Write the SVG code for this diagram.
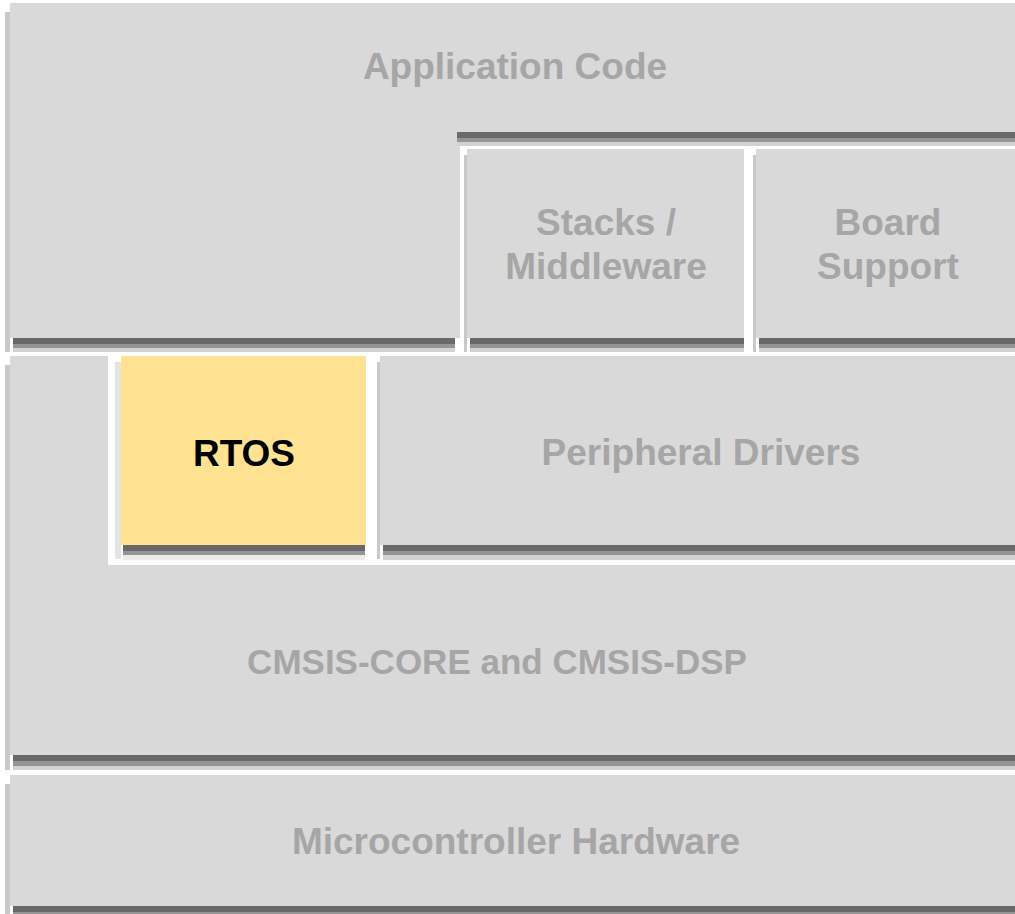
<svg xmlns="http://www.w3.org/2000/svg" width="1015" height="914" viewBox="0 0 1015 914">
  <style>
    .box { fill: #d9d9d9; }
    .rtos { fill: #ffe393; }
    .edge { fill: #c9c9c9; }
    .edge2 { fill: #e4e4e4; }
    .sd { fill: #696969; }
    .sm { fill: #959595; }
    .sl { fill: #d2d2d2; }
    .sl2 { fill: #ececec; }
    .lbl { font-family: "Liberation Sans", Arial, sans-serif; font-weight: bold; font-size: 37px; fill: #a6a6a6; text-anchor: middle; }
    .lblk { fill: #000000; }
  </style>
  <rect x="0" y="0" width="1015" height="914" fill="#ffffff"/>

  <g id="application-code">
    <rect class="edge" x="5" y="12" width="5" height="340"/>
    <polygon class="box" points="10,3 1015,3 1015,132 460,132 460,338 10,338"/>
    <rect class="sd" x="457" y="132" width="558" height="6"/>
    <rect class="sm" x="457" y="138" width="558" height="4"/>
    <rect class="sl" x="457" y="142" width="558" height="4"/>
    <rect class="sd" x="13" y="338" width="442" height="6"/>
    <rect class="sm" x="13" y="344" width="442" height="4"/>
    <rect class="sl" x="13" y="348" width="442" height="4"/>
    <text class="lbl" x="515" y="79">Application Code</text>
  </g>

  <g id="stacks-middleware">
    <rect class="edge" x="464" y="155" width="3" height="197"/>
    <rect class="box" x="467" y="149" width="277" height="189"/>
    <rect class="sd" x="470" y="338" width="274" height="6"/>
    <rect class="sm" x="470" y="344" width="274" height="4"/>
    <rect class="sl" x="470" y="348" width="274" height="4"/>
    <text class="lbl" x="606" y="235">Stacks /</text>
    <text class="lbl" x="606" y="279">Middleware</text>
  </g>

  <g id="board-support">
    <rect class="edge" x="753" y="155" width="3" height="197"/>
    <rect class="box" x="756" y="149" width="259" height="189"/>
    <rect class="sd" x="759" y="338" width="256" height="6"/>
    <rect class="sm" x="759" y="344" width="256" height="4"/>
    <rect class="sl" x="759" y="348" width="256" height="4"/>
    <text class="lbl" x="888" y="235">Board</text>
    <text class="lbl" x="888" y="279">Support</text>
  </g>

  <g id="cmsis-core-dsp">
    <rect class="edge" x="5" y="365" width="5" height="405"/>
    <polygon class="box" points="10,356 108,356 108,565 1015,565 1015,755 10,755"/>
    <rect class="sd" x="13" y="755" width="1002" height="6"/>
    <rect class="sm" x="13" y="761" width="1002" height="5"/>
    <rect class="sl" x="13" y="766" width="1002" height="4"/>
    <text class="lbl" x="497" y="674" style="font-size:35px">CMSIS-CORE and CMSIS-DSP</text>
  </g>

  <g id="rtos">
    <rect class="edge2" x="115" y="362" width="6" height="197"/>
    <rect class="rtos" x="121" y="356" width="245" height="189"/>
    <rect class="sd" x="123" y="545" width="242" height="6"/>
    <rect class="sm" x="123" y="551" width="242" height="4"/>
    <rect class="sl2" x="123" y="555" width="242" height="5"/>
    <text class="lbl lblk" x="244" y="466">RTOS</text>
  </g>

  <g id="peripheral-drivers">
    <rect class="edge" x="377" y="362" width="3" height="197"/>
    <rect class="box" x="380" y="356" width="635" height="189"/>
    <rect class="sd" x="383" y="545" width="632" height="6"/>
    <rect class="sm" x="383" y="551" width="632" height="4"/>
    <rect class="sl" x="383" y="555" width="632" height="5"/>
    <text class="lbl" x="701" y="465">Peripheral Drivers</text>
  </g>

  <g id="microcontroller-hardware">
    <rect class="edge" x="5" y="784" width="5" height="130"/>
    <rect class="box" x="10" y="775" width="1005" height="131"/>
    <rect class="sd" x="13" y="906" width="1002" height="6"/>
    <rect class="sm" x="13" y="912" width="1002" height="2"/>
    <text class="lbl" x="516" y="854">Microcontroller Hardware</text>
  </g>

  <g id="connectors"/>
</svg>
